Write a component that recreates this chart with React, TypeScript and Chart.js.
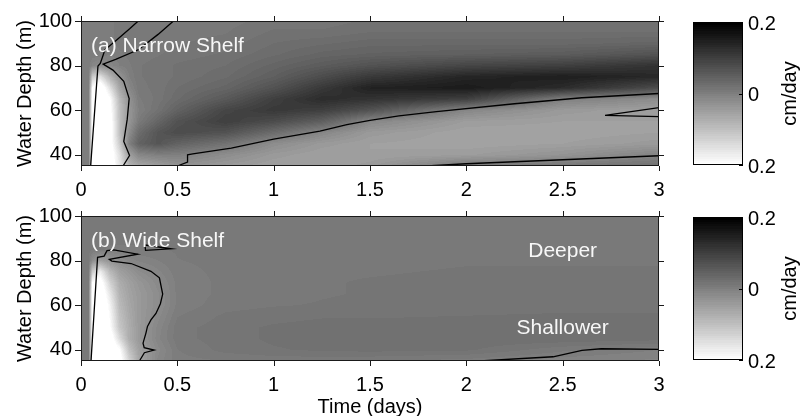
import React, { useEffect, useRef } from "react";
import { Chart, registerables } from "chart.js";

Chart.register(...registerables);

const FONT = '"Liberation Sans", Arial, Helvetica, sans-serif';

// ---- grid of the field (time in days, water depth in m) ----
const timeGrid = [0, 0.04, 0.06, 0.1, 0.15, 0.2, 0.25, 0.3, 0.4, 0.5, 0.75, 1, 1.25, 1.5, 2, 2.5, 3];
const depthGrid = [35, 40, 45, 50, 55, 60, 65, 70, 75, 80, 85, 90, 95, 100];

// rows = depth (35 -> 100), columns = timeGrid ; values in cm/day
const narrowShelfField = [
  [0.005, 0.005, -0.22, -0.25, -0.23, -0.16, -0.08, -0.06, -0.045, -0.03, -0.04, -0.05, -0.05, -0.04, 0.01, 0.015, 0.02],
  [0.005, 0.005, -0.22, -0.25, -0.23, -0.15, -0.05, -0.01, 0.0, 0.0, -0.02, -0.04, -0.05, -0.05, -0.045, -0.03, -0.005],
  [0.005, 0.005, -0.22, -0.25, -0.22, -0.12, 0.0, 0.045, 0.065, 0.045, 0.02, -0.02, -0.04, -0.05, -0.055, -0.05, -0.04],
  [0.005, 0.005, -0.22, -0.25, -0.22, -0.1, -0.02, 0.03, 0.065, 0.08, 0.07, 0.03, -0.01, -0.04, -0.055, -0.055, -0.05],
  [0.005, 0.005, -0.22, -0.25, -0.22, -0.1, -0.035, 0.008, 0.04, 0.07, 0.1, 0.08, 0.05, -0.01, -0.045, -0.05, -0.05],
  [0.005, 0.005, -0.22, -0.25, -0.21, -0.1, -0.035, 0.0, 0.02, 0.045, 0.09, 0.11, 0.1, 0.07, -0.01, -0.04, -0.05],
  [0.005, 0.005, -0.22, -0.25, -0.2, -0.09, -0.03, 0.005, 0.015, 0.03, 0.06, 0.1, 0.13, 0.12, 0.1, 0.0, -0.02],
  [0.005, 0.005, -0.2, -0.24, -0.15, -0.06, -0.01, 0.01, 0.015, 0.025, 0.04, 0.07, 0.11, 0.145, 0.155, 0.13, 0.08],
  [0.005, 0.005, -0.12, -0.15, -0.08, -0.03, 0.0, 0.012, 0.015, 0.02, 0.03, 0.05, 0.08, 0.11, 0.14, 0.15, 0.135],
  [0.005, 0.005, -0.01, -0.02, -0.01, 0.0, 0.005, 0.012, 0.015, 0.02, 0.025, 0.04, 0.055, 0.07, 0.09, 0.1, 0.12],
  [0.005, 0.005, 0.005, 0.005, 0.0, 0.005, 0.008, 0.01, 0.012, 0.015, 0.02, 0.03, 0.04, 0.045, 0.05, 0.055, 0.07],
  [0.005, 0.005, 0.005, 0.005, 0.005, 0.008, 0.008, 0.01, 0.01, 0.012, 0.015, 0.025, 0.03, 0.035, 0.035, 0.035, 0.04],
  [0.005, 0.005, 0.005, 0.005, 0.005, 0.008, 0.008, 0.01, 0.01, 0.01, 0.012, 0.02, 0.02, 0.025, 0.025, 0.025, 0.025],
  [0.005, 0.005, 0.005, 0.005, 0.005, 0.008, 0.008, 0.01, 0.01, 0.01, 0.01, 0.015, 0.015, 0.02, 0.02, 0.02, 0.02],
];

const wideShelfField = [
  [0.008, 0.008, -0.22, -0.25, -0.25, -0.22, -0.13, -0.06, -0.01, 0.004, 0.006, 0.008, 0.008, 0.007, 0.003, -0.004, -0.008],
  [0.008, 0.008, -0.22, -0.25, -0.24, -0.2, -0.1, -0.05, -0.015, 0.006, 0.015, 0.018, 0.02, 0.021, 0.02, 0.008, 0.0],
  [0.008, 0.008, -0.22, -0.25, -0.23, -0.14, -0.07, -0.04, -0.008, 0.01, 0.016, 0.02, 0.022, 0.023, 0.024, 0.024, 0.022],
  [0.008, 0.008, -0.22, -0.25, -0.2, -0.11, -0.07, -0.04, -0.01, 0.01, 0.016, 0.02, 0.022, 0.022, 0.023, 0.023, 0.023],
  [0.008, 0.008, -0.22, -0.25, -0.19, -0.1, -0.065, -0.04, -0.015, 0.006, 0.014, 0.016, 0.018, 0.018, 0.019, 0.02, 0.02],
  [0.008, 0.008, -0.22, -0.25, -0.18, -0.09, -0.06, -0.04, -0.02, 0.002, 0.01, 0.012, 0.013, 0.014, 0.015, 0.016, 0.016],
  [0.008, 0.008, -0.22, -0.24, -0.16, -0.08, -0.055, -0.04, -0.02, 0.002, 0.008, 0.01, 0.012, 0.013, 0.014, 0.015, 0.015],
  [0.008, 0.008, -0.2, -0.22, -0.13, -0.07, -0.05, -0.035, -0.015, 0.002, 0.008, 0.01, 0.012, 0.013, 0.014, 0.014, 0.014],
  [0.008, 0.008, -0.12, -0.17, -0.09, -0.05, -0.035, -0.02, -0.008, 0.004, 0.008, 0.01, 0.012, 0.012, 0.013, 0.013, 0.013],
  [0.008, 0.008, -0.02, -0.05, -0.03, -0.02, -0.01, -0.005, 0.0, 0.006, 0.008, 0.01, 0.01, 0.011, 0.012, 0.012, 0.012],
  [0.008, 0.008, 0.008, 0.008, 0.005, 0.005, 0.005, 0.005, 0.006, 0.007, 0.008, 0.008, 0.009, 0.01, 0.01, 0.01, 0.01],
  [0.008, 0.008, 0.008, 0.008, 0.008, 0.008, 0.008, 0.008, 0.008, 0.008, 0.008, 0.008, 0.008, 0.008, 0.009, 0.009, 0.009],
  [0.008, 0.008, 0.008, 0.008, 0.008, 0.008, 0.008, 0.008, 0.008, 0.008, 0.008, 0.008, 0.008, 0.008, 0.008, 0.008, 0.008],
  [0.008, 0.008, 0.008, 0.008, 0.008, 0.008, 0.008, 0.008, 0.008, 0.008, 0.008, 0.008, 0.008, 0.008, 0.008, 0.008, 0.008],
];

// ---- axes ----
const xTickValues = [0, 0.5, 1, 1.5, 2, 2.5, 3];
const yTickValues = [40, 60, 80, 100];
const colorLimits = [-0.2, 0.2];
const colorbarTicks = [0.2, 0, -0.2];
const colorbarTickLabels = ["0.2", "0", "0.2"];

// ---- contour lines: narrow shelf ----
const narrowTopLeftTime = [0.05, 0.088, 0.1, 0.113, 0.124, 0.185, 0.254, 0.297];
const narrowTopLeftDepth = [35, 79.8, 81, 84.2, 87.1, 91.5, 96.6, 100];
const narrowInnerTime = [0.48, 0.4, 0.3, 0.18, 0.115, 0.166, 0.222, 0.25, 0.24, 0.222, 0.252, 0.218];
const narrowInnerDepth = [100, 94, 87.2, 82.8, 80.7, 78, 73, 65.2, 56, 46, 39.7, 35];
const narrowBandTime = [0.5, 0.553, 0.553, 0.58, 0.78, 1.0, 1.24, 1.38, 1.5, 1.65, 1.845, 2.25, 2.6, 3];
const narrowBandDepth = [35, 36.8, 40, 40.4, 43, 47, 50.6, 53.5, 55.5, 57.5, 59.4, 62.9, 65.6, 67.5];
const narrowWedgeTime = [3, 2.72, 3];
const narrowWedgeDepth = [61.2, 57.7, 57.1];
const narrowBottomTime = [1.794, 2.0, 2.25, 2.5, 3];
const narrowBottomDepth = [35, 36, 36.9, 37.8, 39.6];

// ---- contour lines: wide shelf ----
const wideMainTime = [0.052, 0.086, 0.12, 0.135, 0.17, 0.294, 0.147, 0.16, 0.26, 0.363, 0.407, 0.424, 0.412, 0.389, 0.363, 0.345, 0.337, 0.322, 0.328, 0.38, 0.329, 0.303];
const wideMainDepth = [35, 81.5, 82, 84.5, 84.8, 82.9, 80.6, 79.8, 78.7, 75.2, 72.3, 65, 60.7, 56.3, 53.4, 50.5, 47.5, 43, 41, 39.9, 38.7, 35];
const wideSliverTime = [0.332, 0.467, 0.335, 0.332];
const wideSliverDepth = [87, 85.3, 84.6, 87];
const wideBottomTime = [2.07, 2.45, 2.6, 2.7, 3];
const wideBottomDepth = [35, 36.9, 39.8, 40.5, 40.2];

const pts = (ts: number[], ds: number[]) => ts.map((t, i) => ({ x: t, y: ds[i] }));

function findIdx(arr: number[], v: number) {
  let i = 0;
  while (i < arr.length - 2 && v > arr[i + 1]) i++;
  return i;
}
function clamp(v: number, a: number, b: number) {
  return Math.max(a, Math.min(b, v));
}
function sampleField(field: number[][], t: number, d: number) {
  const i = findIdx(timeGrid, t);
  const j = findIdx(depthGrid, d);
  const ft = clamp((t - timeGrid[i]) / (timeGrid[i + 1] - timeGrid[i]), 0, 1);
  const fd = clamp((d - depthGrid[j]) / (depthGrid[j + 1] - depthGrid[j]), 0, 1);
  const a = field[j][i] * (1 - ft) + field[j][i + 1] * ft;
  const b = field[j + 1][i] * (1 - ft) + field[j + 1][i + 1] * ft;
  return a * (1 - fd) + b * fd;
}
const LEVELS = 64;
function grayFor(v: number) {
  const f = (v - colorLimits[0]) / (colorLimits[1] - colorLimits[0]);
  const idx = clamp(Math.floor(f * LEVELS), 0, LEVELS - 1);
  return Math.round(255 * (1 - idx / (LEVELS - 1)));
}

type Label = { text: string; t: number; d: number; align: CanvasTextAlign };
type PanelProps = {
  field: number[][];
  lines: { x: number; y: number }[][];
  labels: Label[];
  showXTitle: boolean;
  top: number;
  height: number;
};

function Panel({ field, lines, labels, showXTitle, top, height }: PanelProps) {
  const ref = useRef<HTMLCanvasElement | null>(null);
  useEffect(() => {
    const canvas = ref.current!;
    const chartTop = 17;
    const chartBottom = 166;
    const xAxisHeight = height - chartBottom;

    const heatmap = {
      id: "heatmap",
      beforeDatasetsDraw(chart: any) {
        const { ctx, chartArea: a, scales } = chart;
        const xs = scales.x, ys = scales.y;
        const L = Math.round(a.left), T = Math.round(a.top);
        const w = Math.round(a.right) - L, h = Math.round(a.bottom) - T;
        const img = ctx.createImageData(w, h);
        for (let j = 0; j < h; j++) {
          const d = ys.getValueForPixel(T + j + 0.5);
          for (let i = 0; i < w; i++) {
            const t = xs.getValueForPixel(L + i + 0.5);
            const g = grayFor(sampleField(field, t, d));
            const k = (j * w + i) * 4;
            img.data[k] = g;
            img.data[k + 1] = g;
            img.data[k + 2] = g;
            img.data[k + 3] = 255;
          }
        }
        ctx.putImageData(img, L, T);
      },
      afterDatasetsDraw(chart: any) {
        const { ctx, scales } = chart;
        ctx.save();
        ctx.fillStyle = "#f7f7f7";
        ctx.font = `21px ${FONT}`;
        ctx.textBaseline = "alphabetic";
        for (const lb of labels) {
          ctx.textAlign = lb.align;
          ctx.fillText(lb.text, scales.x.getPixelForValue(lb.t), scales.y.getPixelForValue(lb.d));
        }
        ctx.restore();
      },
      afterDraw(chart: any) {
        const { ctx, chartArea: a, scales } = chart;
        ctx.save();
        ctx.strokeStyle = "#1a1a1a";
        ctx.lineWidth = 1;
        ctx.strokeRect(a.left + 0.5, a.top + 0.5, a.right - a.left - 1, a.bottom - a.top - 1);
        ctx.beginPath();
        for (const v of xTickValues) {
          const px = Math.round(scales.x.getPixelForValue(v)) + 0.5;
          ctx.moveTo(px, a.bottom);
          ctx.lineTo(px, a.bottom + 5);
          ctx.moveTo(px, a.top - 5);
          ctx.lineTo(px, a.top);
        }
        for (const v of yTickValues) {
          const py = Math.round(scales.y.getPixelForValue(v)) + 0.5;
          ctx.moveTo(a.left - 6, py);
          ctx.lineTo(a.left, py);
          ctx.moveTo(a.right, py);
          ctx.lineTo(a.right + 5, py);
        }
        ctx.stroke();

        // colorbar
        const cbL = Math.round(a.right) + 34;
        const cbW = 50;
        const cbT = Math.round(a.top) + 1;
        const cbB = Math.round(a.bottom) - 1;
        const cbH = cbB - cbT;
        for (let k = 0; k < LEVELS; k++) {
          const g = Math.round(255 * (1 - k / (LEVELS - 1)));
          const y0 = cbB - (cbH * (k + 1)) / LEVELS;
          const y1 = cbB - (cbH * k) / LEVELS;
          ctx.fillStyle = `rgb(${g},${g},${g})`;
          ctx.fillRect(cbL, Math.floor(y0), cbW, Math.ceil(y1) - Math.floor(y0));
        }
        ctx.strokeStyle = "#000";
        ctx.strokeRect(cbL + 0.5, cbT + 0.5, cbW - 1, cbH - 1);
        ctx.fillStyle = "#000";
        ctx.font = `20px ${FONT}`;
        ctx.textAlign = "left";
        ctx.textBaseline = "middle";
        const valToY = (v: number) => cbB - ((v - colorLimits[0]) / (colorLimits[1] - colorLimits[0])) * cbH;
        ctx.beginPath();
        colorbarTicks.forEach((v, i) => {
          const y = valToY(v);
          ctx.fillText(colorbarTickLabels[i], cbL + cbW + 5, y + 2);
          const py = Math.round(y) + 0.5;
          ctx.moveTo(cbL + cbW - 4, py);
          ctx.lineTo(cbL + cbW, py);
        });
        ctx.stroke();
        ctx.translate(cbL + cbW + 47, (cbT + cbB) / 2);
        ctx.rotate(-Math.PI / 2);
        ctx.textAlign = "center";
        ctx.fillText("cm/day", 0, 0);
        ctx.restore();
      },
    };

    const chart = new Chart(canvas, {
      type: "scatter",
      data: {
        datasets: lines.map((l) => ({
          data: l,
          showLine: true,
          borderColor: "#000",
          borderWidth: 1.3,
          pointRadius: 0,
          tension: 0,
          fill: false,
        })),
      },
      options: {
        animation: false,
        responsive: false,
        events: [],
        layout: { padding: { top: chartTop, right: 802 - 659, bottom: 0, left: 0 } },
        plugins: { legend: { display: false }, tooltip: { enabled: false } },
        scales: {
          x: {
            type: "linear",
            min: 0,
            max: 3,
            afterBuildTicks: (s: any) => {
              s.ticks = xTickValues.map((v) => ({ value: v }));
            },
            afterFit: (s: any) => {
              s.height = xAxisHeight;
            },
            grid: { display: false, drawTicks: false },
            border: { display: false },
            ticks: {
              color: "#000",
              font: { family: FONT, size: 20 },
              padding: 12,
              maxRotation: 0,
              autoSkip: false,
              callback: (v: any) => String(v),
            },
            title: {
              display: showXTitle,
              text: "Time (days)",
              color: "#000",
              font: { family: FONT, size: 20, lineHeight: 1 },
              padding: { top: 0, bottom: -1 },
            },
          },
          y: {
            type: "linear",
            min: 35,
            max: 100,
            afterBuildTicks: (s: any) => {
              s.ticks = yTickValues.map((v) => ({ value: v }));
            },
            afterFit: (s: any) => {
              s.width = 81;
            },
            grid: { display: false, drawTicks: false },
            border: { display: false },
            ticks: {
              color: "#000",
              font: { family: FONT, size: 20 },
              padding: 9,
              autoSkip: false,
              callback: (v: any) => String(v),
            },
            title: {
              display: true,
              text: "Water Depth (m)",
              color: "#000",
              font: { family: FONT, size: 20 },
              padding: { top: 13, bottom: 0 },
            },
          },
        },
      },
      plugins: [heatmap],
    } as any);
    return () => chart.destroy();
  }, []);
  return (
    <canvas
      ref={ref}
      width={802}
      height={height}
      style={{ position: "absolute", left: 0, top, width: 802, height }}
    />
  );
}

export default function App() {
  return (
    <div style={{ position: "absolute", left: 0, top: 0, width: 802, height: 416, background: "#fff" }}>
      <Panel
        field={narrowShelfField}
        lines={[
          pts(narrowTopLeftTime, narrowTopLeftDepth),
          pts(narrowInnerTime, narrowInnerDepth),
          pts(narrowBandTime, narrowBandDepth),
          pts(narrowWedgeTime, narrowWedgeDepth),
          pts(narrowBottomTime, narrowBottomDepth),
        ]}
        labels={[{ text: "(a) Narrow Shelf", t: 0.052, d: 86.3, align: "left" }]}
        showXTitle={false}
        top={0}
        height={200}
      />
      <Panel
        field={wideShelfField}
        lines={[
          pts(wideMainTime, wideMainDepth),
          pts(wideSliverTime, wideSliverDepth),
          pts(wideBottomTime, wideBottomDepth),
        ]}
        labels={[
          { text: "(b) Wide Shelf", t: 0.052, d: 86.3, align: "left" },
          { text: "Deeper", t: 2.5, d: 81.5, align: "center" },
          { text: "Shallower", t: 2.5, d: 47, align: "center" },
        ]}
        showXTitle={true}
        top={195}
        height={221}
      />
    </div>
  );
}
